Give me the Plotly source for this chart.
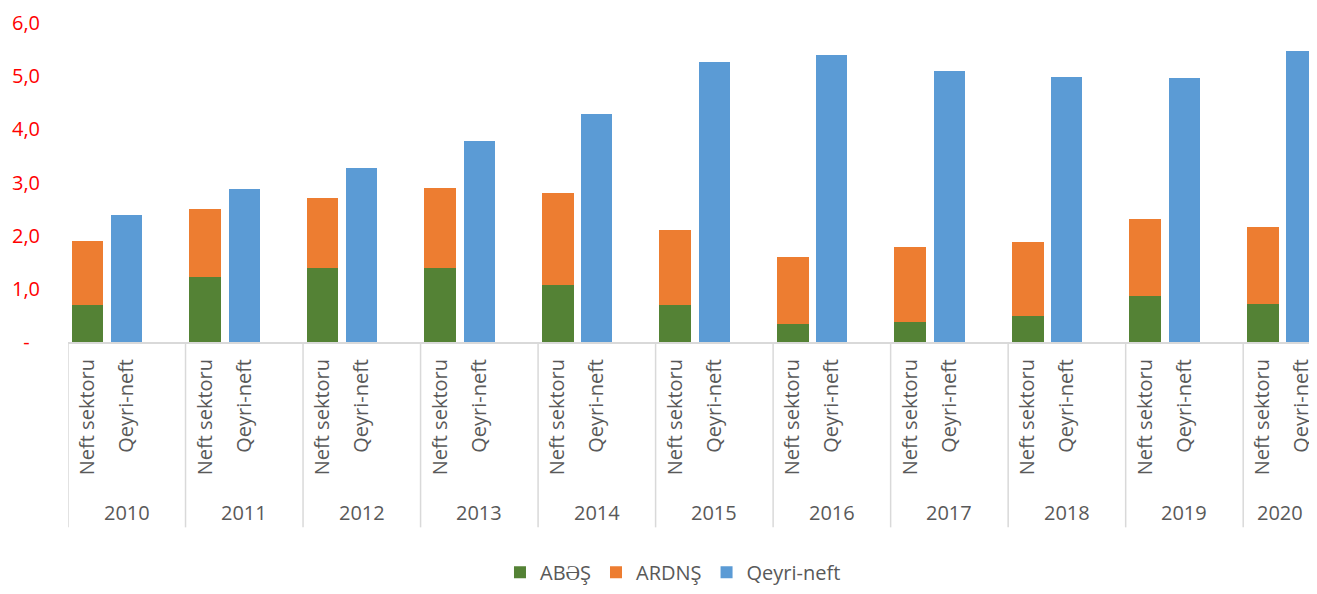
import plotly.graph_objects as go

years = ["2010", "2011", "2012", "2013", "2014", "2015", "2016", "2017", "2018", "2019", "2020"]
sub_labels = ["Neft sektoru", "Qeyri-neft"]
abes = [0.69, 1.23, 1.39, 1.39, 1.08, 0.69, 0.33, 0.38, 0.48, 0.87, 0.72]
ardns = [1.21, 1.27, 1.31, 1.50, 1.72, 1.41, 1.27, 1.41, 1.41, 1.45, 1.45]
qeyri = [2.38, 2.88, 3.28, 3.79, 4.29, 5.27, 5.39, 5.09, 4.99, 4.97, 5.48]
y_tickvals = [0, 1, 2, 3, 4, 5, 6]
y_ticktext = ["-\u00a0\u00a0", "1,0", "2,0", "3,0", "4,0", "5,0", "6,0"]

FONT = "Open Sans"
GRAY = "#595959"
LINE = "#d9d9d9"

n = len(years)
x_neft = [3 * i for i in range(n)]
x_qeyri = [3 * i + 1 for i in range(n)]
x_min, x_max = -0.5, 31.18

fig = go.Figure()
fig.add_trace(go.Bar(name="ABƏŞ", x=x_neft, y=abes, width=0.81,
                     marker=dict(color="#548235", line=dict(width=0))))
fig.add_trace(go.Bar(name="ARDNŞ", x=x_neft, y=ardns, width=0.81,
                     marker=dict(color="#ED7D31", line=dict(width=0))))
fig.add_trace(go.Bar(name="Qeyri-neft", x=x_qeyri, y=qeyri, width=0.79,
                     marker=dict(color="#5B9BD5", line=dict(width=0))))

tickvals = []
ticktext = []
for i in range(n):
    tickvals += [x_neft[i], x_qeyri[i]]
    ticktext += sub_labels

shapes = []
for i in range(n):
    shapes.append(dict(type="line", xref="x", yref="paper",
                       x0=3 * i - 0.5, x1=3 * i - 0.5, y0=0, y1=-0.581,
                       line=dict(color=LINE, width=1.5)))

annotations = []
for i, yr in enumerate(years):
    left = 3 * i - 0.5
    right = min(3 * i + 2.5, x_max + 0.2)
    annotations.append(dict(x=(left + right) / 2, y=-0.535, xref="x", yref="paper",
                            text=yr, showarrow=False, yanchor="middle",
                            font=dict(family=FONT, size=20, color=GRAY)))

fig.update_layout(
    width=1301, height=578,
    margin=dict(l=60, r=0, t=15, b=244, autoexpand=False),
    paper_bgcolor="white", plot_bgcolor="white",
    barmode="stack",
    showlegend=True,
    legend=dict(orientation="h", x=0.4875, xanchor="center", y=-0.722, yanchor="middle",
                font=dict(family=FONT, size=20, color=GRAY), traceorder="normal",
                itemwidth=30),
    xaxis=dict(range=[x_min, x_max], tickvals=tickvals, ticktext=ticktext,
               tickangle=-90, showgrid=False, zeroline=False, automargin=False,
               showline=True, linecolor=LINE, linewidth=2,
               ticks="", ticklabelstandoff=7, ticklabeloverflow="allow",
               tickfont=dict(family=FONT, size=20, color=GRAY)),
    yaxis=dict(range=[0, 6], tickvals=y_tickvals, ticktext=y_ticktext,
               showgrid=False, zeroline=False, showline=False, automargin=False,
               ticks="", ticklabelstandoff=27,
               tickfont=dict(family=FONT, size=20, color="#FF0000")),
    shapes=shapes,
    annotations=annotations,
)

fig.write_html("out.html")
